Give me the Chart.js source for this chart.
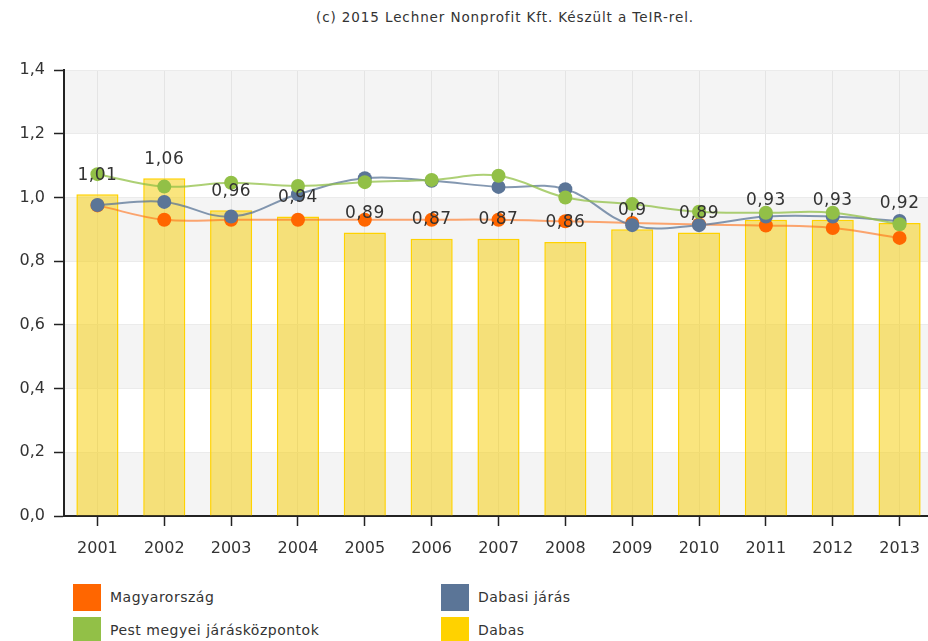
<!doctype html>
<html>
    <head>
        <title>Dabas</title>
        <script src="https://cdn.jsdelivr.net/npm/chart.js@4/dist/chart.umd.min.js"></script>
        <style>
            body { margin: 0; overflow: hidden; background: #fff; font-family: "DejaVu Sans", sans-serif; }
            #title { position: absolute; left: 0; top: 9px; width: 1010px; text-align: center; font-size: 13.5px; letter-spacing: 0.9px; color: #333; }
            #wrap { position: absolute; left: 0; top: 0; width: 940px; height: 570px; }
            .leg { position: absolute; font-size: 14px; letter-spacing: 0.5px; color: #333; }
            .leg span { position: absolute; left: 0; top: 0; width: 28px; height: 27px; }
            .leg b { position: absolute; left: 37px; top: 5px; font-weight: normal; white-space: nowrap; }
        </style>
    </head>

    <body>
        <div id="title">(c) 2015 Lechner Nonprofit Kft. Készült a TeIR-rel.</div>
        <div id="wrap"><canvas id="myChart"></canvas></div>
        <div id="legend"></div>
        <script>
            var years = ['2001', '2002', '2003', '2004', '2005', '2006', '2007', '2008', '2009', '2010', '2011', '2012', '2013'];
            var dabas = [1.01, 1.06, 0.96, 0.94, 0.89, 0.87, 0.87, 0.86, 0.9, 0.89, 0.93, 0.93, 0.92];
            var magyarorszag = [0.975, 0.93, 0.93, 0.93, 0.93, 0.93, 0.93, 0.925, 0.92, 0.915, 0.912, 0.904, 0.873];
            var dabasiJaras = [0.976, 0.986, 0.94, 1.01, 1.06, 1.052, 1.033, 1.026, 0.913, 0.913, 0.94, 0.94, 0.926];
            var pestKozpontok = [1.073, 1.034, 1.046, 1.036, 1.048, 1.055, 1.068, 1.0, 0.979, 0.955, 0.952, 0.952, 0.916];
            var yTicks = [0, 0.2, 0.4, 0.6, 0.8, 1.0, 1.2, 1.4];

            var legendItems = [
                { label: 'Magyarország', color: '#ff6600', x: 73, y: 584 },
                { label: 'Dabasi járás', color: '#5b7597', x: 441, y: 584 },
                { label: 'Pest megyei járásközpontok', color: '#92c047', x: 73, y: 617 },
                { label: 'Dabas', color: '#ffd200', x: 441, y: 617 }
            ];
            var legendElem = document.getElementById('legend');
            legendItems.forEach(function (it) {
                var d = document.createElement('div');
                d.className = 'leg';
                d.style.left = it.x + 'px';
                d.style.top = it.y + 'px';
                d.innerHTML = '<span style="background:' + it.color + '"></span><b>' + it.label + '</b>';
                legendElem.appendChild(d);
            });

            function comma(v) {
                return String(v).replace('.', ',');
            }

            // alternating grey bands behind the plot: 0-0.2, 0.4-0.6, 0.8-1.0, 1.2-1.4
            var bands = {
                id: 'bands',
                beforeDraw: function (chart) {
                    var ctx = chart.ctx, a = chart.chartArea, y = chart.scales.y;
                    ctx.save();
                    ctx.fillStyle = '#f4f4f4';
                    for (var i = 0; i < yTicks.length - 1; i += 2) {
                        var top = y.getPixelForValue(yTicks[i + 1]);
                        var bot = y.getPixelForValue(yTicks[i]);
                        ctx.fillRect(a.left, top, a.right - a.left, bot - top);
                    }
                    ctx.restore();
                }
            };

            var barLabels = {
                id: 'barLabels',
                afterDatasetsDraw: function (chart) {
                    var ctx = chart.ctx;
                    var meta = chart.getDatasetMeta(0);
                    ctx.save();
                    ctx.font = '17px "DejaVu Sans"';
                    ctx.letterSpacing = '0.5px';
                    ctx.fillStyle = '#333';
                    ctx.textAlign = 'center';
                    ctx.textBaseline = 'middle';
                    meta.data.forEach(function (bar, i) {
                        ctx.fillText(comma(dabas[i]), bar.x, bar.y - 19);
                    });
                    ctx.restore();
                }
            };

            function lineSet(label, data, color, line, order) {
                return {
                    type: 'line',
                    label: label,
                    data: data,
                    borderColor: line,
                    borderWidth: 2,
                    backgroundColor: color,
                    pointBackgroundColor: color,
                    pointBorderWidth: 0,
                    pointRadius: 7,
                    tension: 0.4,
                    fill: false,
                    order: order
                };
            }

            var ctx = document.getElementById('myChart').getContext('2d');
            var myChart = new Chart(ctx, {
                type: 'bar',
                data: {
                    labels: years,
                    datasets: [
                        {
                            label: 'Dabas',
                            data: dabas,
                            backgroundColor: 'rgba(245, 208, 20, 0.55)',
                            borderColor: '#ffd200',
                            borderWidth: 1.5,
                            barPercentage: 0.63,
                            categoryPercentage: 1,
                            order: 4
                        },
                        lineSet('Magyarország', magyarorszag, '#ff6600', 'rgba(255, 110, 20, 0.6)', 3),
                        lineSet('Dabasi járás', dabasiJaras, '#5b7597', 'rgba(91, 117, 151, 0.75)', 2),
                        lineSet('Pest megyei járásközpontok', pestKozpontok, '#92c047', 'rgba(146, 192, 71, 0.75)', 1)
                    ]
                },
                options: {
                    responsive: true,
                    maintainAspectRatio: false,
                    animation: false,
                    layout: { padding: { top: 70, right: 3, left: 0, bottom: 0 } },
                    plugins: {
                        legend: { display: false },
                        title: { display: false },
                        tooltip: { enabled: false }
                    },
                    scales: {
                        x: {
                            offset: true,
                            afterFit: function (s) { s.height = 54; },
                            border: { color: '#222', width: 2 },
                            grid: { offset: false, color: '#e4e4e4', tickColor: '#222', tickLength: 10, tickWidth: 1.5 },
                            ticks: { color: '#333', font: { family: 'DejaVu Sans', size: 16 }, padding: 13, maxRotation: 0 }
                        },
                        y: {
                            min: 0,
                            max: 1.4,
                            afterFit: function (s) { s.width = 64; },
                            afterBuildTicks: function (s) {
                                s.ticks = yTicks.map(function (v) { return { value: v }; });
                            },
                            border: { color: '#222', width: 2 },
                            grid: { color: '#ebebeb', tickColor: '#222', tickLength: 10, tickWidth: 1.5 },
                            ticks: {
                                color: '#333',
                                font: { family: 'DejaVu Sans', size: 16 },
                                padding: 9,
                                callback: function (v) { return v.toFixed(1).replace('.', ','); }
                            }
                        }
                    }
                },
                plugins: [bands, barLabels]
            });
        </script>
    </body>

</html>
